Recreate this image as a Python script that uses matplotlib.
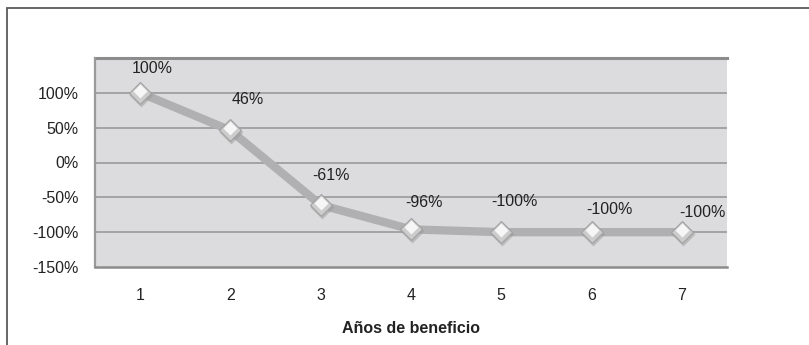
import matplotlib
matplotlib.use("Agg")
import matplotlib.pyplot as plt
from matplotlib.patches import Rectangle
from matplotlib.ticker import FuncFormatter
from matplotlib.transforms import ScaledTranslation

plt.rcParams['font.family'] = ['Liberation Sans', 'DejaVu Sans']

# años y rentabilidad acumulada (%)
anios = [1, 2, 3, 4, 5, 6, 7]
valores = [100, 46, -61, -96, -100, -100, -100]
etiquetas = ["100%", "46%", "-61%", "-96%", "-100%", "-100%", "-100%"]
yticks = [-150, -100, -50, 0, 50, 100]

# desplazamiento de cada etiqueta respecto a su punto (pixeles)
offsets = [(12, 24), (17, 31), (10, 29), (13, 27), (13, 31), (18, 23), (21, 20)]

W, H = 809, 345
fig = plt.figure(figsize=(W / 100, H / 100), dpi=100)
fig.patch.set_facecolor('white')

# marco exterior del grafico
fig.patches.append(Rectangle((7 / W, -0.1), 1.2, 1 - 8 / H + 0.1,
                             transform=fig.transFigure, fill=False,
                             edgecolor='#5a5a5a', linewidth=1.3))

ax = fig.add_axes([95 / W, 1 - 267 / H, (727 - 95) / W, (267 - 58) / H])
ax.set_facecolor('#dcdcde')
ax.set_xlim(0.5, 7.5)
ax.set_ylim(-150, 150)

for y in [-100, -50, 0, 50, 100]:
    ax.axhline(y, color='#a3a3a3', linewidth=1.4, zorder=1)
ax.axhline(150, color='#8c8c8c', linewidth=2.2, zorder=1, clip_on=False)

for s in ['top', 'right']:
    ax.spines[s].set_visible(False)
ax.spines['left'].set_color('#9a9a9a')
ax.spines['left'].set_linewidth(1.6)
ax.spines['bottom'].set_color('#8c8c8c')
ax.spines['bottom'].set_linewidth(1.8)

ax.plot(anios, valores, color='#b0b0b2', linewidth=6, solid_capstyle='butt', zorder=2)

# marcadores en rombo con sombra y brillo
sombra = ax.transData + ScaledTranslation(1 / 100, -2 / 100, fig.dpi_scale_trans)
brillo = ax.transData + ScaledTranslation(0, 2 / 100, fig.dpi_scale_trans)
ax.plot(anios, valores, linestyle='none', marker='D', markersize=12.5,
        markerfacecolor='#9a9a9a', markeredgecolor='none', alpha=0.5, zorder=3,
        transform=sombra)
ax.plot(anios, valores, linestyle='none', marker='D', markersize=11.5,
        markerfacecolor='#cccccc', markeredgecolor='#a0a0a0', markeredgewidth=0.8, zorder=4)
ax.plot(anios, valores, linestyle='none', marker='D', markersize=7,
        markerfacecolor='#f6f6f6', markeredgecolor='none', zorder=5,
        transform=brillo)

for x, v, t, (dx, dy) in zip(anios, valores, etiquetas, offsets):
    ax.annotate(t, (x, v), xytext=(dx, dy), textcoords='offset pixels',
                ha='center', va='center', fontsize=11.5, color='#222222', zorder=6)

ax.set_xticks(anios)
ax.set_yticks(yticks)
ax.yaxis.set_major_formatter(FuncFormatter(lambda v, p: f"{v:.0f}%"))
ax.tick_params(axis='both', length=0, labelsize=11.5, labelcolor='#222222')
ax.tick_params(axis='y', pad=12)
ax.tick_params(axis='x', pad=15)
ax.set_xlabel("Años de beneficio", fontsize=11.5, fontweight='bold', labelpad=13, color='#222222')

fig.savefig("out.png", dpi=100)
